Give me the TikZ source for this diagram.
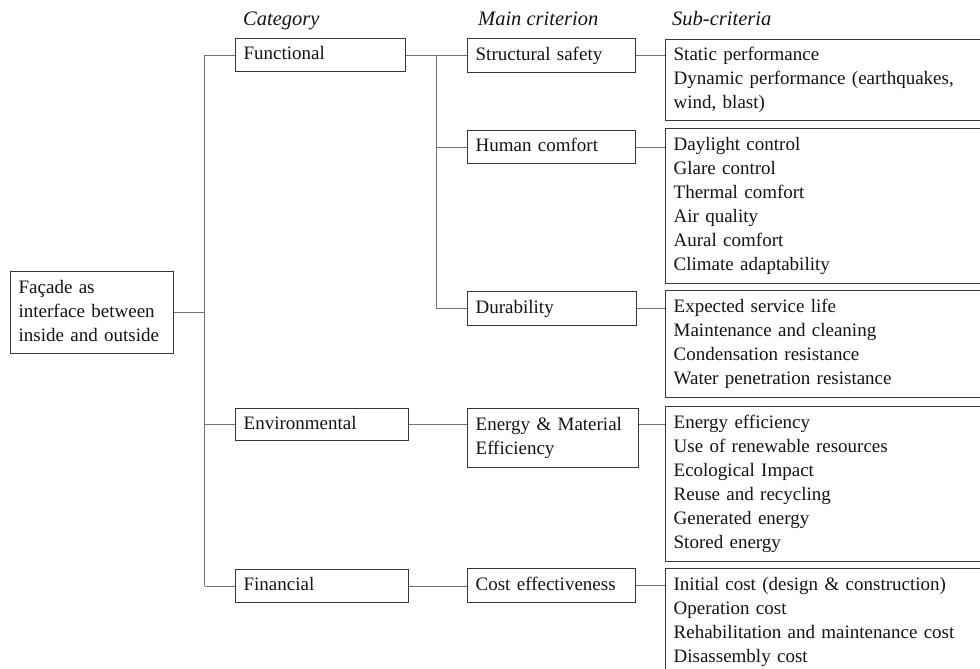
\documentclass[tikz,border=0pt]{standalone}
\usepackage{fontspec}
\setmainfont{Liberation Serif}
\usetikzlibrary{calc}
\definecolor{txt}{gray}{0.08}
\definecolor{boxc}{gray}{0.22}
\definecolor{connc}{gray}{0.45}
\begin{document}
\begin{tikzpicture}[x=1pt,y=-1pt,
  every node/.style={font=\fontsize{19}{24}\selectfont, text=txt},
  box/.style={draw=boxc, line width=1.3pt, inner xsep=8pt, inner ysep=0pt, anchor=north west, align=left},
  conn/.style={draw=connc, line width=1pt},
  hdr/.style={font=\fontsize{20.5}{24}\selectfont\itshape, anchor=base west, inner sep=0pt}]
\useasboundingbox (0,0) rectangle (980,669);
\clip (0,0) rectangle (980,669);
\fill[white] (0,0) rectangle (980,669);

% headers
\node[hdr] (hcat)  at (243,26) {Category};
\node[hdr] (hmain) at (478,26) {Main criterion};
\node[hdr] (hsub)  at (672,26) {Sub-criteria};

% root
\node[box, text width=147, minimum height=82] (fac) at (10,271)
  {\strut Façade as\\\strut interface between\\\strut inside and outside};

% categories
\node[box, text width=154, minimum height=33] (func) at (235,38) {\strut Functional};
\node[box, text width=157, minimum height=32] (env)  at (235,408) {\strut Environmental};
\node[box, text width=157, minimum height=33] (fin)  at (235,569) {\strut Financial};

% main criteria
\node[box, text width=152, minimum height=34] (struct) at (467,38)  {\strut Structural safety};
\node[box, text width=152, minimum height=33] (hum)    at (467,130) {\strut Human comfort};
\node[box, text width=153, minimum height=34] (dur)    at (467,291) {\strut Durability};
\node[box, text width=155, minimum height=59] (energy) at (467,408) {\strut Energy \& Material\\\strut Efficiency};
\node[box, text width=152, minimum height=34] (cost)   at (467,568) {\strut Cost effectiveness};

% sub-criteria
\node[box, text width=320, minimum height=81] (sub1) at (665,39)
  {\strut Static performance\\\strut Dynamic performance (earthquakes,\\\strut wind, blast)};
\node[box, text width=320, minimum height=155] (sub2) at (665,128)
  {\strut Daylight control\\\strut Glare control\\\strut Thermal comfort\\\strut Air quality\\\strut Aural comfort\\\strut Climate adaptability};
\node[box, text width=320, minimum height=107] (sub3) at (665,290)
  {\strut Expected service life\\\strut Maintenance and cleaning\\\strut Condensation resistance\\\strut Water penetration resistance};
\node[box, text width=320, minimum height=155] (sub4) at (665,406)
  {\strut Energy efficiency\\\strut Use of renewable resources\\\strut Ecological Impact\\\strut Reuse and recycling\\\strut Generated energy\\\strut Stored energy};
\node[box, text width=320, minimum height=107] (sub5) at (665,568)
  {\strut Initial cost (design \& construction)\\\strut Operation cost\\\strut Rehabilitation and maintenance cost\\\strut Disassembly cost};

% connectors: root to categories
\coordinate (j1) at ($(fac.east)!0.5!(fac.east -| func.west)$);
\draw[conn] (fac.east) -- (j1);
\draw[conn] (j1 |- func.west) -- (j1 |- fin.west);
\draw[conn] (j1 |- func.west) -- (func.west);
\draw[conn] (j1 |- env.west) -- (env.west);
\draw[conn] (j1 |- fin.west) -- (fin.west);

% categories to main criteria
\coordinate (j2) at ($(func.east)!0.5!(func.east -| struct.west)$);
\draw[conn] (func.east) -- (func.east -| struct.west);
\draw[conn] (j2) |- (dur.west);
\draw[conn] (j2 |- hum.west) -- (hum.west);
\draw[conn] (env.east) -- (env.east -| energy.west);
\draw[conn] (fin.east) -- (fin.east -| cost.west);

% main criteria to sub-criteria
\draw[conn] (struct.east) -- (struct.east -| sub1.west);
\draw[conn] (hum.east) -- (hum.east -| sub2.west);
\draw[conn] (dur.east) -- (dur.east -| sub3.west);
\draw[conn] (energy.east |- env.east) -- (sub4.west |- env.east);
\draw[conn] (cost.east) -- (cost.east -| sub5.west);
\end{tikzpicture}
\end{document}
